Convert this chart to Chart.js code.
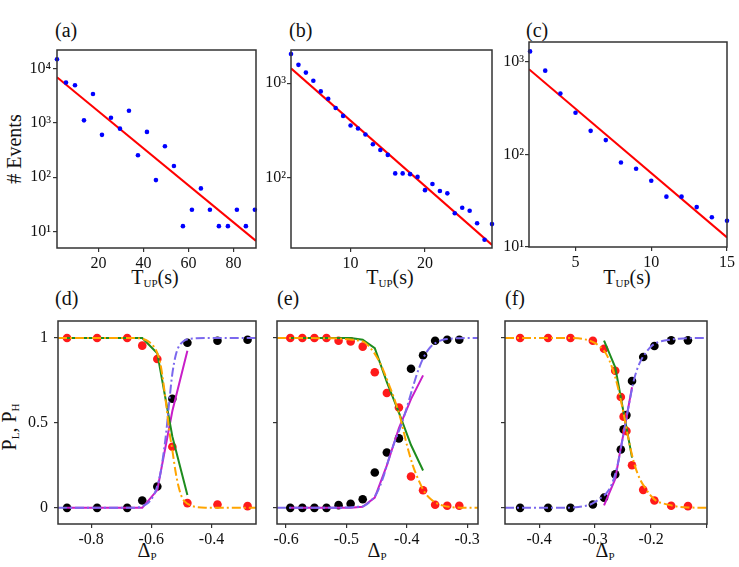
<!DOCTYPE html>
<html>
<head>
<meta charset="utf-8">
<title>T_UP distributions and switching probabilities</title>
<script src="https://cdn.jsdelivr.net/npm/chart.js@4.4.1/dist/chart.umd.min.js"></script>
<style>
  html, body { margin: 0; padding: 0; background: #fff; }
  #fig { position: relative; width: 739px; height: 567px; overflow: hidden;
         font-family: "Liberation Serif", "DejaVu Serif", serif; color: #111; }
  .cv { position: absolute; }
  .lbl { position: absolute; font-size: 20px; line-height: 20px; white-space: nowrap; }
  .xt { transform: translateX(-50%); }
  .yt { transform: translate(-50%, -50%) rotate(-90deg); }
  .sb { font-size: 11px; vertical-align: -3px; }
</style>
</head>
<body>
<div id="fig">
  <div class="lbl" style="left:55px;top:20px">(a)</div>
  <div class="lbl" style="left:289px;top:20px">(b)</div>
  <div class="lbl" style="left:526px;top:20px">(c)</div>
  <div class="lbl" style="left:55px;top:288px">(d)</div>
  <div class="lbl" style="left:277px;top:288px">(e)</div>
  <div class="lbl" style="left:505px;top:288px">(f)</div>

  <div class="lbl yt" style="left:14px;top:149px"># Events</div>
  <div class="lbl yt" style="left:12px;top:427px">P<span class="sb">L</span>, P<span class="sb">H</span></div>

  <div class="lbl xt" style="left:155px;top:267px">T<span class="sb">UP</span>(s)</div>
  <div class="lbl xt" style="left:390px;top:267px">T<span class="sb">UP</span>(s)</div>
  <div class="lbl xt" style="left:627px;top:267px">T<span class="sb">UP</span>(s)</div>

  <div class="lbl xt" style="left:147px;top:540px">&Delta;<span class="sb">P</span></div>
  <div class="lbl xt" style="left:377px;top:540px">&Delta;<span class="sb">P</span></div>
  <div class="lbl xt" style="left:605px;top:540px">&Delta;<span class="sb">P</span></div>
</div>
<script>
"use strict";

// ---- (a) T_UP histogram, 4 s bins
var aT = [1.5, 5.5, 9.5, 13.5, 17.5, 21.5, 25.5, 29.5, 33.5, 37.5, 41.5, 45.5,
          49.5, 53.5, 57.5, 61.5, 65.5, 69.5, 73.5, 77.5, 81.5, 85.5, 89.5];
var aN = [14800, 5500, 4900, 1110, 3400, 600, 1240, 780, 1670, 252, 680, 88,
          370, 160, 12.5, 25, 62, 25, 12.5, 12.5, 25, 12.5, 25];
var aFitT = [1.5, 90];
var aFitN = [6900, 6.7];

// ---- (b)
var bT = [2, 3, 4, 5, 6, 7, 8, 9, 10, 11, 12, 13, 14, 15, 16, 17, 18, 19, 20,
          21, 22, 23, 24, 25, 26, 27, 28, 29];
var bN = [2050, 1570, 1300, 1065, 820, 685, 545, 450, 355, 330, 285, 225, 195,
          173, 110, 110, 108, 101, 73, 85, 71.5, 67.5, 41.5, 47.5, 44, 32.5, 21.7, 31.8];
var bFitT = [2, 29];
var bFitN = [1443, 19.1];

// ---- (c)
var cT = [2, 3, 4, 5, 6, 7, 8, 9, 10, 11, 12, 13, 14, 15];
var cN = [1300, 805, 455, 282, 180, 143, 82, 70, 52, 35, 35, 27, 21, 19.2];
var cFitT = [1.93, 15];
var cFitN = [834, 12.7];

// ---- (d) switching probabilities
var dX = [-0.88, -0.78, -0.68, -0.63, -0.58, -0.53, -0.48, -0.38, -0.28];
var dPL = [1, 1, 1, 0.955, 0.876, 0.36, 0.028, 0.02, 0.01];
var dPH = [0, 0, 0, 0.043, 0.126, 0.642, 0.972, 0.984, 0.99];
var dModX = [-0.88, -0.78, -0.68, -0.63, -0.58, -0.53, -0.48];
var dModL = [1, 1, 1, 1, 0.91, 0.42, 0.075];
var dModH = [0, 0, 0, 0, 0.105, 0.57, 0.925];
var dFitX = [-0.91, -0.66, -0.63, -0.61, -0.59, -0.58, -0.57, -0.56, -0.55, -0.54,
             -0.53, -0.52, -0.51, -0.50, -0.49, -0.47, -0.45, -0.42, -0.252];
var dFitL = [1, 1, 0.995, 0.98, 0.945, 0.91, 0.85, 0.74, 0.6, 0.45, 0.34, 0.22,
             0.13, 0.07, 0.04, 0.015, 0.005, 0.001, 0];
var dFitH = [0, 0, 0.01, 0.03, 0.08, 0.13, 0.2, 0.31, 0.45, 0.63, 0.79, 0.89,
             0.945, 0.97, 0.985, 0.995, 0.998, 1, 1];

// ---- (e)
var eX = [-0.593, -0.573, -0.553, -0.533, -0.513, -0.493, -0.473, -0.453,
          -0.433, -0.413, -0.393, -0.373, -0.353, -0.333, -0.313];
var ePL = [1, 1, 1, 1, 0.984, 0.98, 0.949, 0.798, 0.676, 0.591, 0.185, 0.104, 0.018, 0.012, 0.012];
var ePH = [0, 0, 0, 0, 0.016, 0.024, 0.051, 0.208, 0.326, 0.409, 0.819, 0.898, 0.984, 0.99, 0.99];
var eModX = [-0.593, -0.573, -0.553, -0.533, -0.513, -0.493, -0.473, -0.453,
             -0.433, -0.413, -0.393, -0.373];
var eModL = [1, 1, 1, 1, 1, 1, 0.99, 0.94, 0.74, 0.56, 0.37, 0.22];
var eModH = [0, 0, 0, 0, 0, 0, 0.006, 0.06, 0.25, 0.47, 0.64, 0.78];
var eFitX = [-0.615, -0.52, -0.50, -0.49, -0.48, -0.47, -0.46, -0.45, -0.44, -0.43, -0.42,
             -0.41, -0.40, -0.39, -0.38, -0.37, -0.36, -0.35, -0.34, -0.33, -0.31, -0.282];
var eFitL = [1, 0.998, 0.993, 0.99, 0.985, 0.975, 0.94, 0.89, 0.82, 0.73, 0.635,
             0.52, 0.373, 0.25, 0.16, 0.09, 0.05, 0.027, 0.013, 0.006, 0.001, 0];
var eFitH = [0, 0, 0.002, 0.004, 0.007, 0.013, 0.04, 0.085, 0.17, 0.285, 0.39,
             0.48, 0.59, 0.71, 0.82, 0.9, 0.95, 0.975, 0.99, 0.995, 0.999, 1];

// ---- (f)
var fX = [-0.434, -0.384, -0.344, -0.304, -0.284, -0.264, -0.254, -0.249,
          -0.244, -0.234, -0.214, -0.194, -0.164, -0.134];
var fPL = [1, 1, 1, 0.984, 0.937, 0.807, 0.653, 0.537, 0.452, 0.251, 0.106, 0.043, 0.012, 0.01];
var fPH = [0, 0, 0, 0.02, 0.06, 0.197, 0.344, 0.462, 0.546, 0.747, 0.888, 0.953, 0.986, 0.986];
var fModX = [-0.284, -0.264, -0.254, -0.249, -0.244, -0.234];
var fModL = [0.984, 0.827, 0.65, 0.56, 0.475, 0.296];
var fModH = [0.015, 0.17, 0.355, 0.44, 0.53, 0.71];
var fFitX = [-0.461, -0.35, -0.33, -0.32, -0.31, -0.30, -0.29, -0.28, -0.27, -0.26, -0.25,
             -0.24, -0.23, -0.22, -0.21, -0.20, -0.19, -0.18, -0.17, -0.15, -0.13, -0.1];
var fFitL = [1, 1, 0.998, 0.993, 0.985, 0.97, 0.945, 0.905, 0.83, 0.72, 0.57,
             0.4, 0.26, 0.17, 0.115, 0.07, 0.04, 0.028, 0.019, 0.006, 0.002, 0];
var fFitH = [0, 0.001, 0.005, 0.01, 0.018, 0.035, 0.058, 0.085, 0.14, 0.25, 0.42,
             0.6, 0.76, 0.855, 0.91, 0.95, 0.972, 0.982, 0.988, 0.996, 0.999, 1];

// tick positions
var aXTicks = [20, 40, 60, 80], bXTicks = [10, 20], cXTicks = [5, 10, 15];
var aYTicks = [10, 100, 1000, 10000], bYTicks = [100, 1000], cYTicks = [10, 100, 1000];
var dXTicks = [-0.8, -0.6, -0.4], eXTicks = [-0.6, -0.5, -0.4, -0.3], fXTicks = [-0.4, -0.3, -0.2, -0.1];
var pTicks = [0, 0.5, 1];

var FONT = "'Liberation Serif', 'DejaVu Serif', serif";
var SUP = ["\u2070", "\u00b9", "\u00b2", "\u00b3", "\u2074", "\u2075"];

function pts(xs, ys) {
  return xs.map(function (x, i) { return {x: x, y: ys[i]}; });
}

function dots(xs, ys, color, r, order) {
  return {data: pts(xs, ys), backgroundColor: color, borderColor: color, borderWidth: 0,
          pointRadius: r, pointHoverRadius: r, showLine: false, order: order, clip: 6};
}

function curve(xs, ys, color, width, dash, order, smooth) {
  return {data: pts(xs, ys), borderColor: color, backgroundColor: color, borderWidth: width,
          borderDash: dash, pointRadius: 0, showLine: true, order: order, tension: 0,
          cubicInterpolationMode: smooth ? 'monotone' : 'default'};
}

function powLabel(v) { return '10' + SUP[Math.round(Math.log10(v))]; }
function decLabel(v) { return String(v); }
function oneDec(v) { return Math.abs(v + 0.1) < 1e-9 ? '' : v.toFixed(1); }
function blank() { return ''; }

function axis(type, min, max, ticks, fmt, dir, size, pad) {
  return {
    type: type, min: min, max: max,
    grid: {display: true, drawOnChartArea: false, drawTicks: true, tickLength: 4, tickColor: '#333', lineWidth: 1.2},
    border: {display: false},
    ticks: {font: {family: FONT, size: 16}, color: '#111', padding: pad,
            maxRotation: 0, autoSkip: false, callback: fmt},
    afterBuildTicks: function (s) { s.ticks = ticks.map(function (v) { return {value: v}; }); },
    afterFit: function (s) { if (dir === 'x') { s.height = size; } else { s.width = size; } }
  };
}

// box around the plotting area
var framePlugin = {
  id: 'frame',
  afterDatasetsDraw: function (chart) {
    var a = chart.chartArea, c = chart.ctx;
    c.save();
    c.strokeStyle = '#333';
    c.lineWidth = 1.5;
    c.strokeRect(a.left, a.top, a.right - a.left, a.bottom - a.top);
    c.restore();
  }
};

function panel(box, o) {
  var padL = o.yw, padT = 20, padR = 14, padB = 30;
  var w = box[2] - box[0] + padL + padR, h = box[3] - box[1] + padT + padB;
  var cv = document.createElement('canvas');
  cv.className = 'cv';
  cv.width = w; cv.height = h;
  cv.style.left = (box[0] - padL) + 'px';
  cv.style.top = (box[1] - padT) + 'px';
  cv.style.width = w + 'px';
  cv.style.height = h + 'px';
  document.getElementById('fig').appendChild(cv);
  return new Chart(cv, {
    type: 'scatter',
    data: {datasets: o.datasets},
    options: {
      responsive: false, animation: false, devicePixelRatio: 1,
      layout: {padding: {left: 0, top: padT, right: padR, bottom: 0}},
      plugins: {legend: {display: false}, tooltip: {enabled: false}},
      scales: {
        x: axis('linear', o.x[0], o.x[1], o.xTicks, o.xFmt, 'x', padB, 2),
        y: axis(o.yType, o.y[0], o.y[1], o.yTicks, o.yFmt, 'y', padL, o.ypad)
      }
    },
    plugins: [framePlugin]
  });
}

var BLUE = '#0000ff', RED = '#ff0000';
var PRED = '#ff1a1a', PBLK = '#000000';
var ORANGE = '#ffa500', PURPLE = '#7b68ee', GREEN = '#1e8c1e', MAGENTA = '#c81ec8';
var DASHDOT = [9, 3, 2, 3];

panel([57, 50, 256, 248], {
  yw: 45, ypad: 2, x: [1.5, 90], y: [4.95, 21900], yType: 'logarithmic',
  xTicks: aXTicks, yTicks: aYTicks, xFmt: decLabel, yFmt: powLabel,
  datasets: [dots(aT, aN, BLUE, 2.3, 0), curve(aFitT, aFitN, RED, 2, [], 1, false)]
});
panel([291, 50, 492, 248], {
  yw: 40, ypad: 1, x: [2, 29], y: [17.7, 2260], yType: 'logarithmic',
  xTicks: bXTicks, yTicks: bYTicks, xFmt: decLabel, yFmt: powLabel,
  datasets: [dots(bT, bN, BLUE, 2.3, 0), curve(bFitT, bFitN, RED, 2, [], 1, false)]
});
panel([529, 42, 727, 247], {
  yw: 40, ypad: 1, x: [1.93, 15], y: [10, 1643], yType: 'logarithmic',
  xTicks: cXTicks, yTicks: cYTicks, xFmt: decLabel, yFmt: powLabel,
  datasets: [dots(cT, cN, BLUE, 2.3, 0), curve(cFitT, cFitN, RED, 2, [], 1, false)]
});

function probSets(X, PL, PH, MX, ML, MH, FX, FL, FH) {
  return [
    curve(FX, FL, ORANGE, 2, DASHDOT, 0, true),
    curve(FX, FH, PURPLE, 2, DASHDOT, 0, true),
    curve(MX, ML, GREEN, 2, [], 1, false),
    curve(MX, MH, MAGENTA, 2, [], 1, false),
    dots(X, PL, PRED, 4.3, 2),
    dots(X, PH, PBLK, 4.3, 2)
  ];
}

panel([58, 321, 256, 524], {
  yw: 45, ypad: 6, x: [-0.91, -0.252], y: [-0.095, 1.1], yType: 'linear',
  xTicks: dXTicks, yTicks: pTicks, xFmt: oneDec, yFmt: decLabel,
  datasets: probSets(dX, dPL, dPH, dModX, dModL, dModH, dFitX, dFitL, dFitH)
});
panel([277, 321, 478, 524], {
  yw: 16, ypad: 1, x: [-0.615, -0.282], y: [-0.095, 1.1], yType: 'linear',
  xTicks: eXTicks, yTicks: pTicks, xFmt: oneDec, yFmt: blank,
  datasets: probSets(eX, ePL, ePH, eModX, eModL, eModH, eFitX, eFitL, eFitH)
});
panel([505, 321, 707, 524], {
  yw: 16, ypad: 1, x: [-0.461, -0.1], y: [-0.095, 1.1], yType: 'linear',
  xTicks: fXTicks, yTicks: pTicks, xFmt: oneDec, yFmt: blank,
  datasets: probSets(fX, fPL, fPH, fModX, fModL, fModH, fFitX, fFitL, fFitH)
});
</script>
</body>
</html>
